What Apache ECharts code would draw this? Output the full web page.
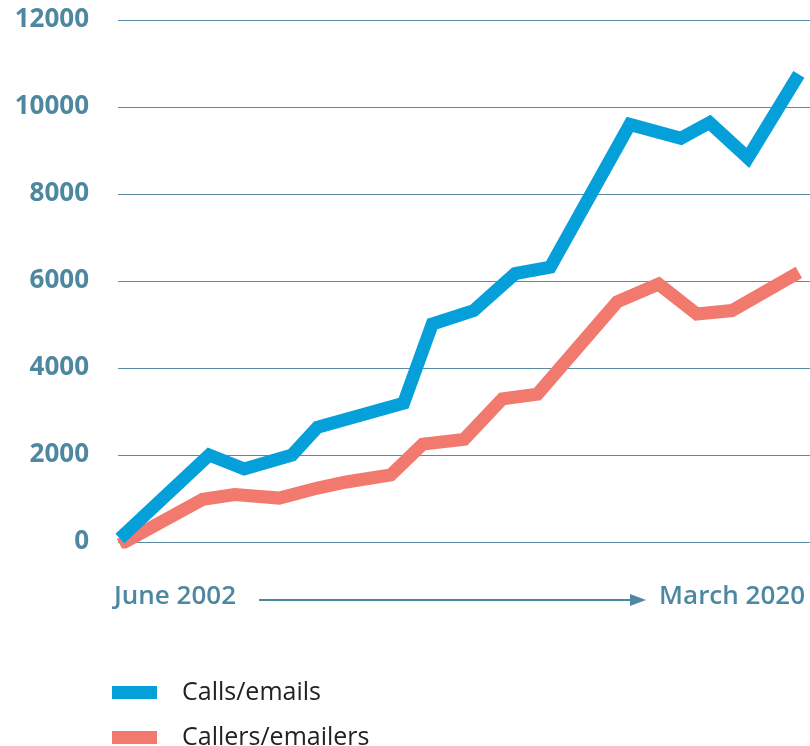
<!DOCTYPE html>
<html>
<head>
<meta charset="utf-8">
<script src="https://cdn.jsdelivr.net/npm/echarts@6/dist/echarts.min.js"></script>
<style>
  html, body { margin: 0; padding: 0; background: #fff; }
  #chart { width: 810px; height: 746px; }
</style>
</head>
<body>
<div id="chart"></div>
<script>
// months since June 2002
const callsMonths = [0, 28, 39, 54, 62, 89, 98, 111, 124, 135, 160, 176, 185, 197, 213]
const callsValues = [80, 2000, 1680, 2000, 2640, 3190, 5010, 5320, 6170, 6320, 9600, 9280, 9640, 8830, 10750]
const callerMonths = [0, 26, 36, 50, 62, 71, 85, 95, 108, 120, 131, 156, 169, 181, 192, 213]
const callerValues = [-60, 980, 1090, 1010, 1240, 1380, 1540, 2250, 2360, 3290, 3400, 5520, 5930, 5240, 5320, 6200]
const yTicks = [0, 2000, 4000, 6000, 8000, 10000, 12000]
const startLabel = 'June 2002'
const endLabel = 'March 2020'

const axisColor = '#4d87a0'
const pair = (xs, ys) => xs.map((x, i) => [x, ys[i]])

const legendStyle = {
  left: 107,
  icon: 'rect',
  itemWidth: 45,
  itemHeight: 13,
  textStyle: {
    fontFamily: 'Open Sans',
    fontSize: 25,
    color: '#222',
    padding: [0, 0, 0, 20]
  }
}

let chart = echarts.init(document.getElementById('chart'))
chart.setOption({
  animation: false,
  grid: {
    left: 118,
    right: 0,
    top: 20,
    bottom: 204
  },
  legend: [
    Object.assign({ top: 675, data: ['Calls/emails'] }, legendStyle),
    Object.assign({ top: 720, data: ['Callers/emailers'] }, legendStyle)
  ],
  xAxis: {
    type: 'value',
    min: -0.6,
    max: 216.5,
    show: false
  },
  yAxis: {
    type: 'value',
    min: yTicks[0],
    max: yTicks[yTicks.length - 1],
    interval: 2000,
    axisLine: { show: false },
    axisTick: { show: false },
    axisLabel: {
      color: axisColor,
      fontFamily: 'Open Sans',
      fontWeight: 'bold',
      fontSize: 26,
      margin: 29,
      formatter: v => String(v)
    },
    splitLine: {
      lineStyle: { color: '#5b8ca3', width: 1.2 }
    }
  },
  graphic: [
    {
      type: 'text',
      left: 114,
      top: 584,
      style: { text: startLabel, fill: axisColor, font: '600 26px "Open Sans"' }
    },
    {
      type: 'line',
      shape: { x1: 259, y1: 600, x2: 632, y2: 600 },
      style: { stroke: axisColor, lineWidth: 2 }
    },
    {
      type: 'polygon',
      shape: { points: [[630, 594], [646, 600], [630, 606]] },
      style: { fill: axisColor }
    },
    {
      type: 'text',
      right: 5,
      top: 584,
      style: { text: endLabel, fill: axisColor, font: '600 26px "Open Sans"' }
    }
  ],
  series: [
    {
      name: 'Calls/emails',
      type: 'line',
      data: pair(callsMonths, callsValues),
      symbol: 'none',
      z: 3,
      itemStyle: { color: '#05a0da' },
      lineStyle: { color: '#05a0da', width: 13, join: 'miter' }
    },
    {
      name: 'Callers/emailers',
      type: 'line',
      data: pair(callerMonths, callerValues),
      symbol: 'none',
      z: 2,
      itemStyle: { color: '#f2796e' },
      lineStyle: { color: '#f2796e', width: 13, join: 'miter' }
    }
  ]
})

window.addEventListener('resize', () => {
  chart.resize()
})
</script>
</body>
</html>
